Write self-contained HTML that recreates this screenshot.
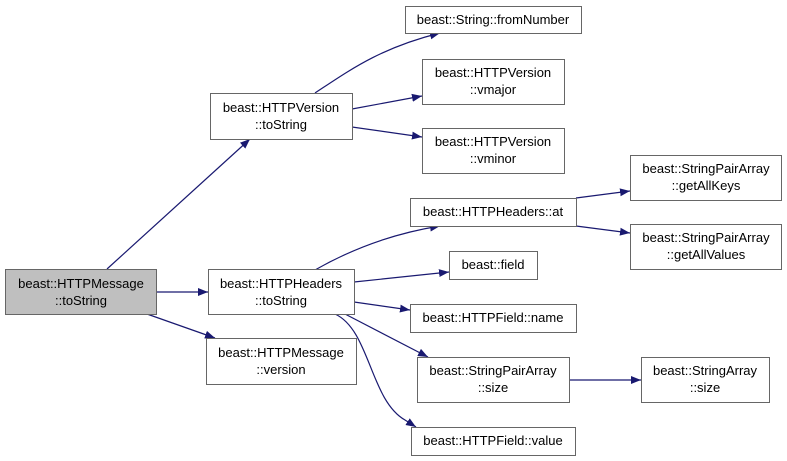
<!DOCTYPE html>
<html><head><style>
html,body{margin:0;padding:0;background:#fff;}
svg{display:block;}
text{font-family:"Liberation Sans",sans-serif;font-size:13px;fill:#000;}
</style></head><body>
<svg width="787" height="461" viewBox="0 0 787 461" xmlns="http://www.w3.org/2000/svg">
<defs><marker id="a" viewBox="0 0 10 10" refX="10" refY="5" markerWidth="10" markerHeight="10" markerUnits="userSpaceOnUse" orient="auto"><path d="M0,1 L10,5 L0,9 z" fill="#191970"/></marker></defs>
<g fill="none" stroke="#191970" stroke-width="1.2" marker-end="url(#a)">
<path d="M107,269 L250,139"/>
<path d="M156,292 L208,292"/>
<path d="M147,314 L215,338"/>
<path d="M315,93 C350,70 380,48 440,33"/>
<path d="M352,109 L422,96"/>
<path d="M352,127 L422,137"/>
<path d="M315,270 C350,250 390,234 440,226"/>
<path d="M354,282 L449,272"/>
<path d="M354,302 L410,310"/>
<path d="M345,314 L428,357"/>
<path d="M335,314 C370,330 370,400 405,420 L416,427"/>
<path d="M576,198 L630,191"/>
<path d="M576,226 L630,233"/>
<path d="M569,380 L641,380"/>
</g>
<g stroke="#666" stroke-width="1" fill="#fff">
<rect x="5.5" y="269.5" width="151" height="45" fill="#bfbfbf"/>
<rect x="210.5" y="93.5" width="142" height="46"/>
<rect x="208.5" y="269.5" width="146" height="45"/>
<rect x="206.5" y="338.5" width="150" height="46"/>
<rect x="405.5" y="6.5" width="176" height="27"/>
<rect x="422.5" y="59.5" width="142" height="45"/>
<rect x="422.5" y="128.5" width="142" height="45"/>
<rect x="410.5" y="198.5" width="166" height="28"/>
<rect x="449.5" y="251.5" width="88" height="28"/>
<rect x="410.5" y="304.5" width="166" height="28"/>
<rect x="417.5" y="357.5" width="152" height="45"/>
<rect x="411.5" y="427.5" width="164" height="28"/>
<rect x="630.5" y="155.5" width="151" height="45"/>
<rect x="630.5" y="224.5" width="151" height="45"/>
<rect x="641.5" y="357.5" width="128" height="45"/>
</g>
<g text-anchor="middle">
<text x="81" y="288">beast::HTTPMessage</text><text x="81" y="305">::toString</text>
<text x="281" y="112">beast::HTTPVersion</text><text x="281" y="129">::toString</text>
<text x="281" y="288">beast::HTTPHeaders</text><text x="281" y="305">::toString</text>
<text x="281" y="357">beast::HTTPMessage</text><text x="281" y="374">::version</text>
<text x="493" y="24">beast::String::fromNumber</text>
<text x="493" y="77">beast::HTTPVersion</text><text x="493" y="94">::vmajor</text>
<text x="493" y="146">beast::HTTPVersion</text><text x="493" y="163">::vminor</text>
<text x="493" y="216">beast::HTTPHeaders::at</text>
<text x="493" y="269">beast::field</text>
<text x="493" y="322">beast::HTTPField::name</text>
<text x="493" y="375">beast::StringPairArray</text><text x="493" y="392">::size</text>
<text x="493" y="445">beast::HTTPField::value</text>
<text x="706" y="173">beast::StringPairArray</text><text x="706" y="190">::getAllKeys</text>
<text x="706" y="242">beast::StringPairArray</text><text x="706" y="259">::getAllValues</text>
<text x="705" y="375">beast::StringArray</text><text x="705" y="392">::size</text>
</g>
</svg>
</body></html>
